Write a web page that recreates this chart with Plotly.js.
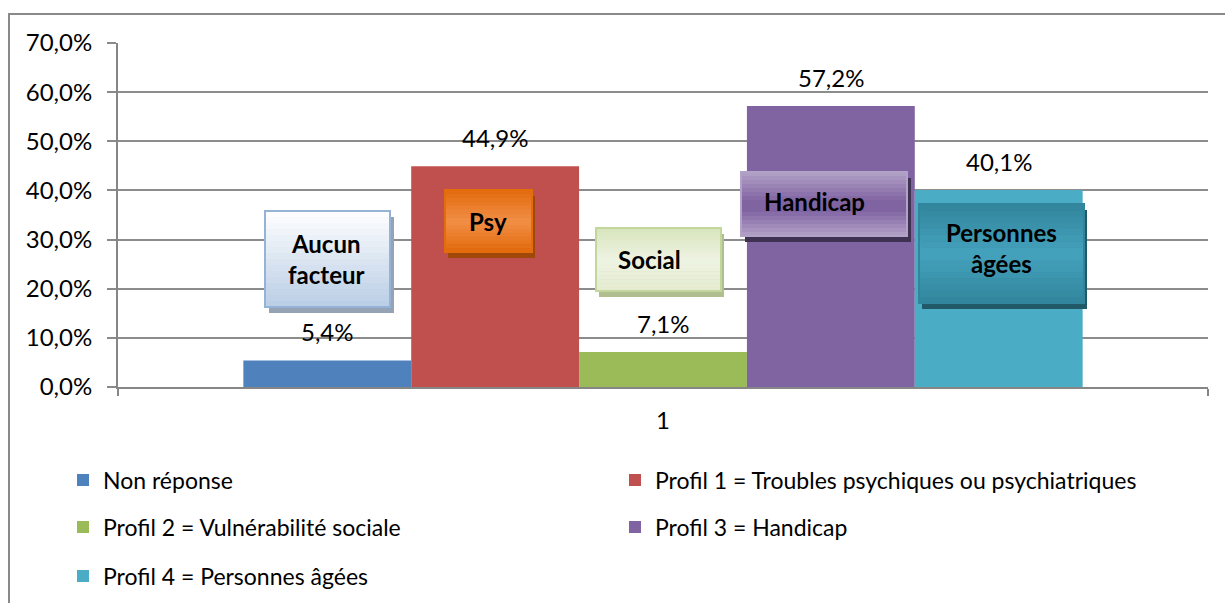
<!DOCTYPE html>
<html>
<head>
<meta charset="utf-8">
<script src="https://cdn.plot.ly/plotly-3.0.1.min.js"></script>
<style>
  html, body { margin: 0; padding: 0; background: #fff; }
  #chart { width: 1225px; height: 603px; }
</style>
</head>
<body>
<div id="chart"></div>
<script>
// Data
const categories = ['1'];
const seriesNames = [
  'Non réponse',
  'Profil 1 = Troubles psychiques ou psychiatriques',
  'Profil 2 = Vulnérabilité sociale',
  'Profil 3 = Handicap',
  'Profil 4 = Personnes âgées'
];
const seriesValues = [0.054, 0.449, 0.071, 0.572, 0.401];
const seriesColors = ['#4f81bd', '#c0504d', '#9bbb59', '#8064a2', '#4bacc6'];
const yTickVals = [0, 0.1, 0.2, 0.3, 0.4, 0.5, 0.6, 0.7];

// Plot area in pixels (used to place decoration in paper coords)
const PL = 118, PR = 1208, PT = 43, PB = 387;
const px = x => (x - PL) / (PR - PL);
const py = y => (PB - y) / (PB - PT);

const FONT = 'Lato, "Open Sans", sans-serif';
const bargap = 0.23;
const barW = (1 - bargap) / seriesValues.length;

const legendOf = ['legend', 'legend', 'legend2', 'legend2', 'legend3'];

const traces = seriesValues.map((v, i) => ({
  type: 'bar',
  x: categories,
  y: [v],
  name: seriesNames[i],
  marker: { color: seriesColors[i], line: { width: 0 } },
  legend: legendOf[i],
  hoverinfo: 'skip'
}));

// value labels above bars
const fmt = v => (v * 100).toFixed(1).replace('.', ',') + '%';
const annotations = seriesValues.map((v, i) => ({
  x: (i - (seriesValues.length - 1) / 2) * barW,
  y: v,
  xref: 'x', yref: 'y',
  text: fmt(v),
  showarrow: false,
  yanchor: 'bottom',
  yshift: 12,
  font: { family: FONT, size: 24, color: '#000' }
}));

// callout boxes (pixel coords: left, top, right, bottom)
function mix(a, b, t) {
  const pa = [1, 3, 5].map(k => parseInt(a.substr(k, 2), 16));
  const pb = [1, 3, 5].map(k => parseInt(b.substr(k, 2), 16));
  return 'rgb(' + pa.map((c, k) => Math.round(c + (pb[k] - c) * t)).join(',') + ')';
}
function colorAt(stops, t) {
  for (let k = 0; k < stops.length - 1; k++) {
    const [t0, c0] = stops[k], [t1, c1] = stops[k + 1];
    if (t <= t1) return mix(c0, c1, (t - t0) / (t1 - t0));
  }
  return stops[stops.length - 1][1];
}

const boxes = [
  { r: [265, 211, 390, 307], text: 'Aucun<br>facteur', tx: 326, ty: 259,
    stops: [[0, '#ffffff'], [1, '#b9cde5']], border: '#95b3d7', shadow: '#96a3b4', sh: [4, 6] },
  { r: [445, 190, 532, 252], text: 'Psy', tx: 488, ty: 221,
    stops: [[0, '#e26a0c'], [0.5, '#f28f46'], [1, '#e26a0c']], border: '#e46c0a', shadow: '#a0470a', sh: [3, 6] },
  { r: [596, 228, 721, 291], text: 'Social', tx: 649, ty: 259,
    stops: [[0, '#d8e4bc'], [0.5, '#eef3e2'], [1, '#e4ecd0']], border: '#c3d69b', shadow: '#b0be90', sh: [3, 6] },
  { r: [741, 172, 907, 236], text: 'Handicap', tx: 814, ty: 201,
    stops: [[0, '#b3a2c7'], [0.45, '#8064a2'], [0.6, '#8064a2'], [1, '#b3a2c7']], border: '#b3a2c7', shadow: '#3f3151', sh: [4, 6] },
  { r: [919, 204, 1084, 303], text: 'Personnes<br>âgées', tx: 1001, ty: 248,
    stops: [[0, '#31859c'], [0.5, '#45a3bd'], [1, '#31859c']], border: '#31859c', shadow: '#215968', sh: [3, 6] }
];

const shapes = [];
boxes.forEach(b => {
  const [l, t, r, btm] = b.r;
  shapes.push({ type: 'rect', xref: 'paper', yref: 'paper',
    x0: px(l + b.sh[0]), x1: px(r + b.sh[0]), y0: py(btm + b.sh[1]), y1: py(t + b.sh[1]),
    fillcolor: b.shadow, line: { width: 0 } });
  const n = 16;
  for (let k = 0; k < n; k++) {
    const y0 = t + (btm - t) * k / n, y1 = t + (btm - t) * (k + 1) / n;
    shapes.push({ type: 'rect', xref: 'paper', yref: 'paper',
      x0: px(l), x1: px(r), y0: py(y1 + 0.5), y1: py(y0),
      fillcolor: colorAt(b.stops, (k + 0.5) / n), line: { width: 0 } });
  }
  shapes.push({ type: 'rect', xref: 'paper', yref: 'paper',
    x0: px(l), x1: px(r), y0: py(btm), y1: py(t),
    fillcolor: 'rgba(0,0,0,0)', line: { color: b.border, width: 2 } });
  annotations.push({ xref: 'paper', yref: 'paper', x: px(b.tx), y: py(b.ty),
    text: '<b>' + b.text + '</b>', showarrow: false, xanchor: 'center', yanchor: 'middle',
    font: { family: FONT, size: 24, color: '#000' } });
});

// outer chart frame (only left and top edges visible in the crop)
shapes.push({ type: 'rect', xref: 'paper', yref: 'paper', layer: 'below',
  x0: px(9), x1: px(1300), y0: py(700), y1: py(14),
  line: { color: '#898989', width: 2 }, fillcolor: 'rgba(0,0,0,0)' });

const legendBase = {
  orientation: 'h', xanchor: 'left', yanchor: 'middle',
  x: px(63), entrywidth: 507, entrywidthmode: 'pixels',
  font: { family: FONT, size: 23, color: '#000' },
  bgcolor: 'rgba(0,0,0,0)', itemclick: false, itemdoubleclick: false
};

const layout = {
  width: 1225, height: 603,
  margin: { l: PL, r: 1225 - PR, t: PT, b: 603 - PB, pad: 0, autoexpand: false },
  paper_bgcolor: '#fff', plot_bgcolor: '#fff',
  font: { family: FONT, size: 23, color: '#000' },
  separators: ', ',
  barmode: 'group', bargap: bargap, bargroupgap: 0,
  xaxis: {
    type: 'category', tickson: 'boundaries', ticks: 'outside', ticklen: 7,
    tickcolor: '#868686', tickwidth: 2, showline: true, linecolor: '#868686', linewidth: 2,
    showgrid: false, ticklabelstandoff: 11, tickfont: { family: FONT, size: 24, color: '#000' }
  },
  yaxis: {
    range: [0, 0.7], tickvals: yTickVals, tickformat: '.1%',
    ticks: 'outside', ticklen: 9, tickcolor: '#8a8a8a', tickwidth: 2,
    showline: true, linecolor: '#868686', linewidth: 2,
    gridcolor: '#8c8c8c', gridwidth: 2, zeroline: false,
    ticklabelstandoff: 10, tickfont: { family: FONT, size: 24, color: '#000' }
  },
  legend: Object.assign({}, legendBase, { y: py(480) }),
  legend2: Object.assign({}, legendBase, { y: py(527) }),
  legend3: Object.assign({}, legendBase, { y: py(576) }),
  annotations: annotations,
  shapes: shapes,
  showlegend: true
};

Plotly.newPlot('chart', traces, layout, { displayModeBar: false, staticPlot: true });
</script>
</body>
</html>
